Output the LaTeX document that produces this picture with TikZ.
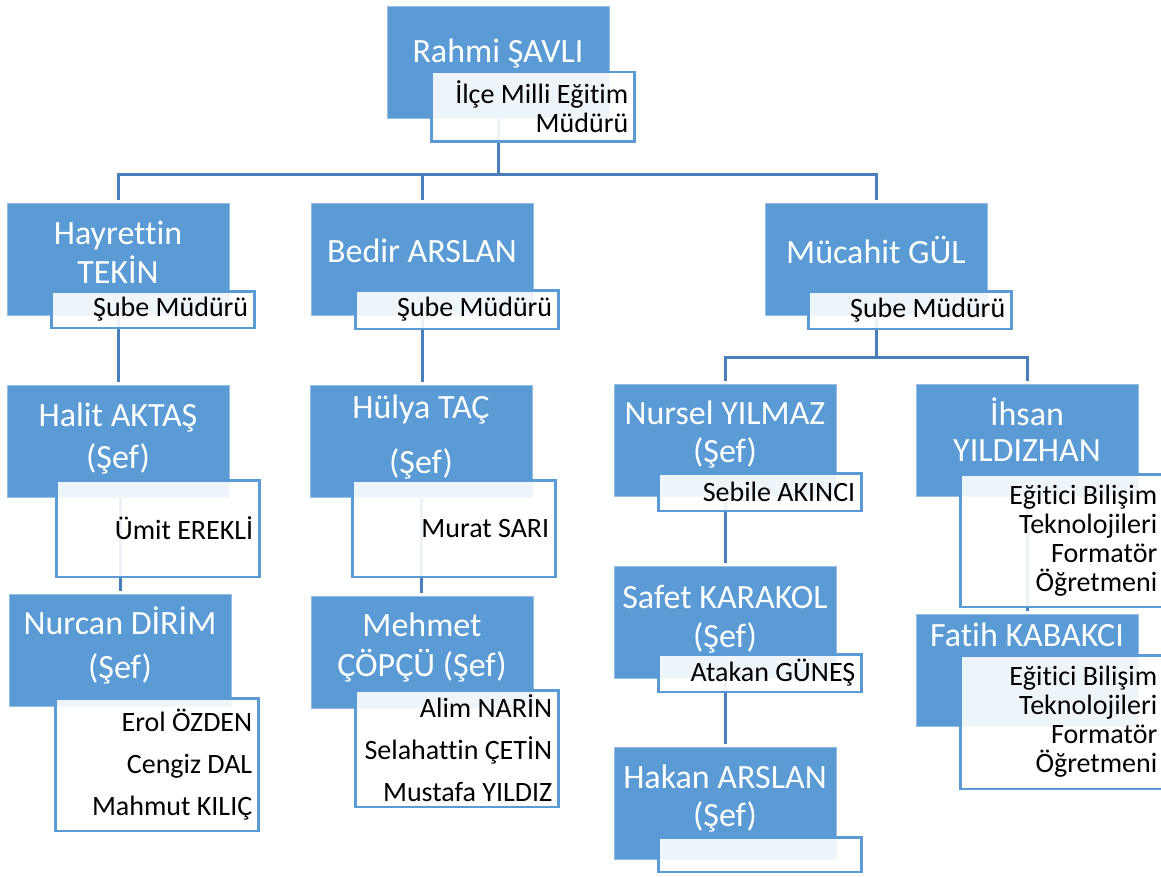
\documentclass[tikz,border=0pt]{standalone}
\usepackage{fontspec}
\setmainfont[Ligatures={NoCommon}]{Carlito}
\usepackage{tikz}
\usetikzlibrary{backgrounds}
\definecolor{kutumavi}{HTML}{5B9BD5}
\definecolor{cizgimavi}{HTML}{4A7EBB}
\tikzset{
  kutu/.style={fill=kutumavi, draw=white!35!kutumavi, line width=0.8pt, minimum width=222pt, minimum height=112pt, inner sep=0pt},
  isim/.style={text=white, align=center, inner sep=0pt, yshift=-3pt, font=\fontsize{34}{36}\selectfont},
  etiket/.style={anchor=north west, draw=kutumavi, line width=2.5pt, fill=white, fill opacity=0.9, text opacity=1, text width=191pt, inner xsep=6pt, inner ysep=0pt, align=flush right, font=\fontsize{28}{29}\selectfont},
  baglanti/.style={draw=cizgimavi, line width=3pt},
}

\begin{document}
\begin{tikzpicture}[x=1pt, y=-1pt]
\useasboundingbox (0,0) rectangle (1161,877);

% ust kademe
\node[kutu] (rahmi) at (498,62) {};
\node[etiket, minimum height=69.5pt] (rahmiE) at (430,71) {İlçe Milli Eğitim\\Müdürü};
\node[isim] (rahmiT) at (498,51) {Rahmi ŞAVLI};

% sube mudurleri
\node[kutu] (hayrettin) at (118,259.5) {};
\node[etiket, minimum height=36.5pt] (hayrettinE) at (50,290) {Şube Müdürü};
\node[isim] (hayrettinT) at (118,249.5) {Hayrettin\\[3pt]TEKİN};

\node[kutu] (bedir) at (422,259.5) {};
\node[etiket, minimum height=38.5pt] (bedirE) at (354,289) {Şube Müdürü};
\node[isim] (bedirT) at (422,248) {Bedir ARSLAN};

\node[kutu] (mucahit) at (876,259.5) {};
\node[etiket, minimum height=37.5pt] (mucahitE) at (807,290) {Şube Müdürü};
\node[isim] (mucahitT) at (876,247) {Mücahit GÜL};

% sol sutun
\node[kutu] (halit) at (118,441) {};
\node[etiket, minimum height=96.5pt] (halitE) at (55,479) {Ümit EREKLİ};
\node[isim] (halitT) at (118,436) {Halit AKTAŞ\\[6pt](Şef)};

\node[kutu] (nurcan) at (120,650.5) {};
\node[etiket, minimum height=132.5pt] (nurcanE) at (54,697) {Erol ÖZDEN\\[13pt]Cengiz DAL\\[13pt]Mahmut KILIÇ};
\node[isim] (nurcanT) at (120,642) {Nurcan DİRİM\\[8pt](Şef)};

% orta sutun
\node[kutu] (hulya) at (421,441) {};
\node[etiket, minimum height=96.5pt] (hulyaE) at (351,479) {Murat SARI};
\node[isim] (hulyaT) at (421,434.5) {Hülya TAÇ\\[19pt](Şef)};

\node[kutu] (mehmet) at (422,652) {};
\node[etiket, minimum height=116.5pt] (mehmetE) at (354,689) {Alim NARİN\\[13pt]Selahattin ÇETİN\\[13pt]Mustafa YILDIZ};
\node[isim] (mehmetT) at (422,645) {Mehmet\\[4pt]ÇÖPÇÜ (Şef)};

% sag sutun
\node[kutu] (nursel) at (725,440.5) {};
\node[etiket, minimum height=37.5pt] (nurselE) at (657,472) {Sebile AKINCI};
\node[isim] (nurselT) at (725,432) {Nursel YILMAZ\\[2pt](Şef)};

\node[kutu] (safet) at (725,622) {};
\node[etiket, minimum height=37.5pt] (safetE) at (657,653) {Atakan GÜNEŞ};
\node[isim] (safetT) at (725,616.5) {Safet KARAKOL\\[3pt](Şef)};

\node[kutu] (hakan) at (725,803) {};
\node[etiket, minimum height=34.5pt] (hakanE) at (657,836) {};
\node[isim] (hakanT) at (725,796) {Hakan ARSLAN\\[2pt](Şef)};

\node[kutu] (ihsan) at (1027,440.5) {};
\node[etiket, minimum height=132.5pt] (ihsanE) at (959,473) {Eğitici Bilişim\\Teknolojileri\\Formatör\\Öğretmeni};
\node[isim] (ihsanT) at (1027,427) {İhsan\\YILDIZHAN};

\node[kutu] (fatih) at (1027,670.5) {};
\node[etiket, minimum height=133.5pt] (fatihE) at (959,654) {Eğitici Bilişim\\Teknolojileri\\Formatör\\Öğretmeni};
\node[isim] (fatihT) at (1027,632) {Fatih KABAKCI};

% baglantilar
\begin{scope}[on background layer]
\draw[baglanti, shorten >=3pt] (rahmi.center) -- ++(0,113) -| (hayrettin.north);
\draw[baglanti, shorten >=3pt] (rahmi.center) -- ++(0,113) -| (bedir.north);
\draw[baglanti, shorten >=3pt] (rahmi.center) -- ++(0,113) -| (mucahit.north);
\draw[baglanti, shorten >=3pt] (hayrettin) -- (halit.north);
\draw[baglanti, shorten >=3pt] (halit.center -| nurcan.north) -- (nurcan.north);
\draw[baglanti, shorten >=3pt] (bedir) -- (bedir |- hulya.north);
\draw[baglanti, shorten >=3pt] (hulya) -- (hulya |- mehmet.north);
\draw[baglanti, shorten >=3pt] (mucahit.center) -- ++(0,97.5) -| (nursel.north);
\draw[baglanti, shorten >=3pt] (mucahit.center) -- ++(0,97.5) -| (ihsan.north);
\draw[baglanti, shorten >=3pt] (nursel) -- (safet.north);
\draw[baglanti, shorten >=3pt] (safet) -- (hakan.north);
\draw[baglanti, shorten >=3pt] (ihsan) -- (fatih.north);
\end{scope}
\end{tikzpicture}
\end{document}
